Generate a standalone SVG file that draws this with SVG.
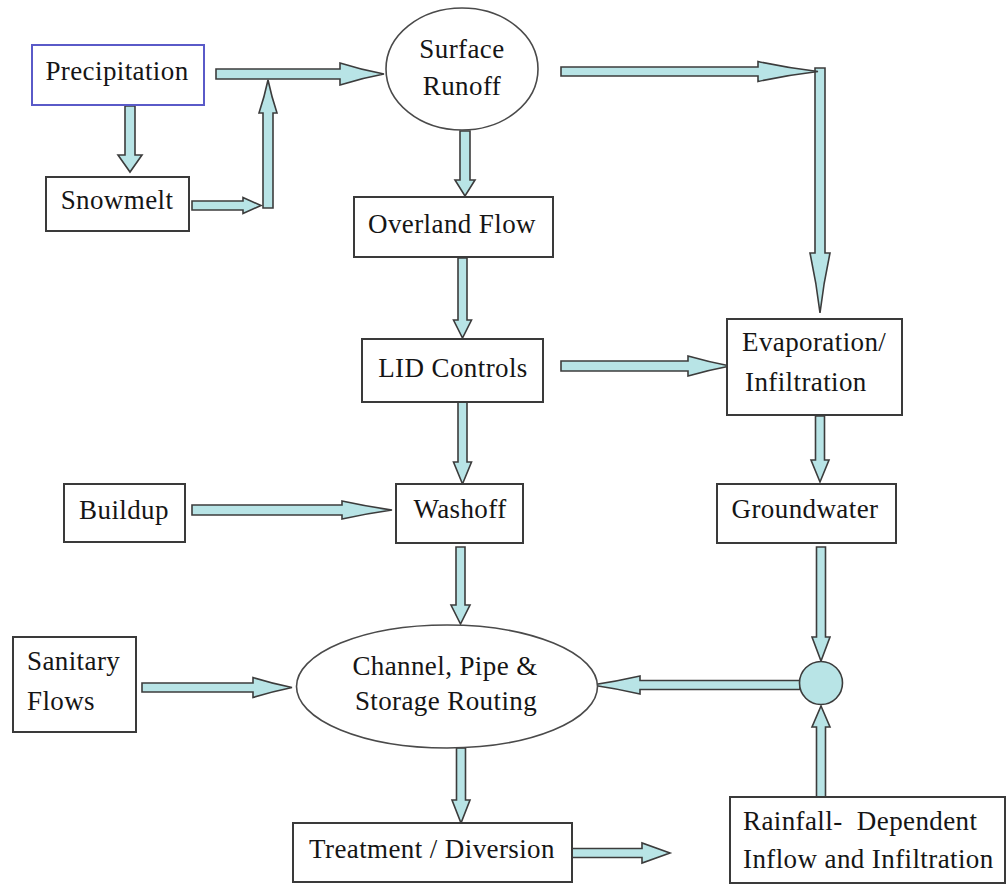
<svg xmlns="http://www.w3.org/2000/svg" width="1008" height="884" viewBox="0 0 1008 884">
<style>
.box{fill:#ffffff;stroke:#3a3a3a;stroke-width:2}
.blue{stroke:#5a5ac8}
.ell{fill:#ffffff;stroke:#4a4a4a;stroke-width:1.6}
.arr{fill:#b8e4e6;stroke:#3c3c3c;stroke-width:1.6;stroke-linejoin:miter}
.t{font-family:"Liberation Serif","Times New Roman",serif;font-size:27px;fill:#151515;letter-spacing:0.4px}
.c{text-anchor:middle}
</style>
<rect width="1008" height="884" fill="#ffffff"/>
<g id="connectors">
<path class="arr" d="M125 106 V155 H118 Q124 163.5 130 172 Q136 163.5 142 155 H135 V106 Z"/>
<path class="arr" d="M216 69 H340 V63 Q362 70 384 74 Q362 78 340 85 V79 H216 Z"/>
<path class="arr" d="M192 201 H243 V197.5 Q252 201.5 261 205.5 Q252 209.5 243 213.5 V210 H192 Z"/>
<path class="arr" d="M263 208 V113 H259 Q264.5 96.5 268 80 Q271.5 96.5 277 113 H273 V208 Z"/>
<path class="arr" d="M460 131 V180 H455 Q460 188 465 196 Q470 188 475 180 H470 V131 Z"/>
<path class="arr" d="M815 68 V253 H810 Q816.5 283 820 313 Q823.5 283 830 253 H825 V68 Z"/>
<path class="arr" d="M561 67 H758 V61.5 Q788 68 818 71.5 Q788 75 758 81.5 V76 H561 Z"/>
<path class="arr" d="M458 258 V320 H453.5 Q458 329 462.5 338 Q467 329 471.5 320 H467 V258 Z"/>
<path class="arr" d="M458 402 V462 H453.5 Q458 473 462.5 484 Q467 473 471.5 462 H467 V402 Z"/>
<path class="arr" d="M561 361 H688 V356 Q709 362 730 366 Q709 370 688 376 V371 H561 Z"/>
<path class="arr" d="M815.5 416 V460 H811 Q815.5 471 820 482 Q824.5 471 829 460 H824.5 V416 Z"/>
<path class="arr" d="M192 505 H342 V501 Q367 506.5 392 510 Q367 513.5 342 519 V515 H192 Z"/>
<path class="arr" d="M456 547 V605 H451 Q455.75 614.5 460.5 624 Q465.25 614.5 470 605 H465 V547 Z"/>
<path class="arr" d="M816.5 547 V637 H812 Q816.5 649 821 661 Q825.5 649 830 637 H825.5 V547 Z"/>
<path class="arr" d="M800 680.5 H640 V676 Q616 681.5 592 685 Q616 688.5 640 694 V689.5 H800 Z"/>
<path class="arr" d="M816.5 797 V727 H812 Q816.5 716.5 821 706 Q825.5 716.5 830 727 H825.5 V797 Z"/>
<path class="arr" d="M142 683 H253 V677.5 Q272.5 683.5 292 687.5 Q272.5 691.5 253 697.5 V692 H142 Z"/>
<path class="arr" d="M456.5 748 V800 H452 Q456.5 811.5 461 823 Q465.5 811.5 470 800 H465.5 V748 Z"/>
<path class="arr" d="M572 848.5 H642 V843 L670 853 L642 863 V857.5 H572 Z"/>
</g>
<g id="precipitation"><rect class="box blue" x="32" y="45" width="172" height="60"/><text class="t c" x="117" y="80">Precipitation</text></g>
<g id="snowmelt"><rect class="box" x="46" y="177" width="143" height="54"/><text class="t c" x="117" y="209">Snowmelt</text></g>
<g id="surface-runoff"><ellipse class="ell" cx="462" cy="69" rx="76" ry="61"/><text class="t c" x="462" y="58">Surface</text><text class="t c" x="462" y="95">Runoff</text></g>
<g id="overland-flow"><rect class="box" x="354" y="197" width="199" height="60"/><text class="t c" x="452" y="233">Overland Flow</text></g>
<g id="lid-controls"><rect class="box" x="362" y="339" width="181" height="63"/><text class="t c" x="453" y="377">LID Controls</text></g>
<g id="evaporation"><rect class="box" x="727" y="319" width="175" height="96"/><text class="t" x="742" y="351">Evaporation/</text><text class="t" x="745" y="391">Infiltration</text></g>
<g id="buildup"><rect class="box" x="64" y="484" width="121" height="58"/><text class="t c" x="124" y="519">Buildup</text></g>
<g id="washoff"><rect class="box" x="396" y="484" width="127" height="59"/><text class="t c" x="460" y="518">Washoff</text></g>
<g id="groundwater"><rect class="box" x="717" y="484" width="179" height="59"/><text class="t c" x="805" y="518">Groundwater</text></g>
<g id="sanitary-flows"><rect class="box" x="13" y="637" width="123" height="95"/><text class="t" x="27" y="670">Sanitary</text><text class="t" x="27" y="710">Flows</text></g>
<g id="channel-routing"><ellipse class="ell" cx="447" cy="686.5" rx="150.5" ry="61.5"/><text class="t c" x="445" y="675">Channel, Pipe &amp;</text><text class="t c" x="446" y="710">Storage Routing</text></g>
<g id="junction"><circle cx="821" cy="683" r="21.5" fill="#b8e4e6" stroke="#3c3c3c" stroke-width="1.6"/></g>
<g id="treatment"><rect class="box" x="293" y="823" width="279" height="59"/><text class="t c" x="432" y="858">Treatment / Diversion</text></g>
<g id="rdii"><rect class="box" x="730" y="797" width="275" height="86"/><text class="t" x="743" y="830" xml:space="preserve">Rainfall-  Dependent</text><text class="t" x="743" y="868">Inflow and Infiltration</text></g>
</svg>
